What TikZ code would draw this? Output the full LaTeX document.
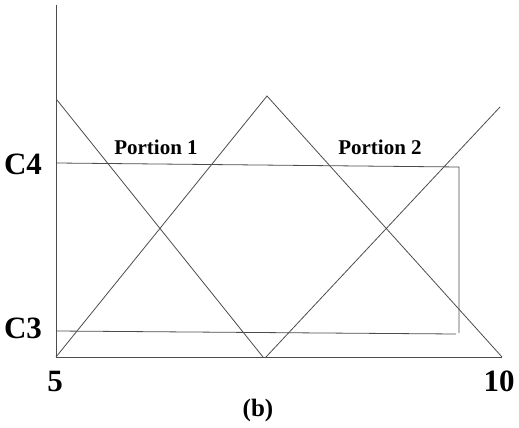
\documentclass[tikz,border=0pt]{standalone}
\usepackage{fontspec}
\setmainfont{Liberation Serif}
\usepackage{tikz}
\usetikzlibrary{positioning,calc}

\begin{document}
\begin{tikzpicture}[
  x=1pt, y=-1pt,
  ln/.style={draw, black!70, line width=0.8pt},
  axlab/.style={font=\fontsize{31}{31}\bfseries\selectfont, inner sep=0pt},
  ptag/.style={font=\fontsize{21}{21}\bfseries\selectfont, inner sep=0pt}]
\useasboundingbox (0,0) rectangle (519,428);
% axes
\coordinate (o) at (56,357);
\coordinate (ytop) at (56,5);
\coordinate (xend) at (502,357);
\draw[ln] (ytop) -- (o) -- (xend);
% triangles
\coordinate (a1) at (57,100);
\coordinate (b1) at (263,357);
\coordinate (pk) at (267,96);
\coordinate (b2) at (266,357);
\coordinate (a2) at (500,107);
\draw[ln] (a1) -- (b1);
\draw[ln] (o) -- (pk) -- (xend);
\draw[ln] (b2) -- (a2);
% C4 / C3 levels
\coordinate (c4l) at (57,163);
\coordinate (c4r) at (459,167);
\coordinate (c3l) at (57,331);
\coordinate (c3r) at (456,334);
\coordinate (vb) at (459,333);
\draw[ln] (c4l) -- (c4r) -- (vb);
\draw[ln] (c3l) -- (c3r);
% labels
\node[axlab] (c4) at (23,164) {C4};
\node[axlab] (c3) at (23,328) {C3};
\node[axlab] (x5) at (55,381) {5};
\node[axlab] (x10) at (499,381) {10};
\node[axlab, font=\fontsize{25}{25}\bfseries\selectfont] (cap) at (258,410) {(b)};
\node[ptag] (p1) at (156,147) {Portion 1};
\node[ptag] (p2) at (380,147) {Portion 2};
\end{tikzpicture}
\end{document}
